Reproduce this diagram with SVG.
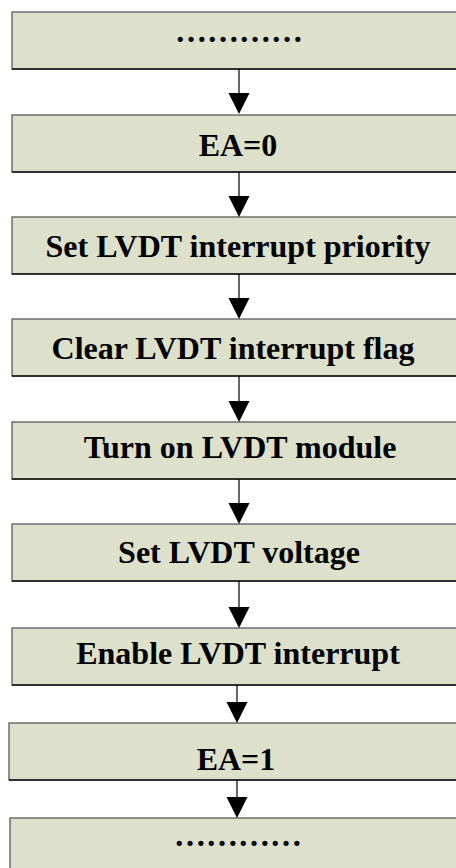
<svg xmlns="http://www.w3.org/2000/svg" width="456" height="868" viewBox="0 0 456 868">
<style>
.box{fill:#dde0cb;stroke:#5a5a5a;stroke-width:1.3}
.bl{stroke:#111;stroke-width:1.3}
.t{font-family:"Liberation Serif","Times New Roman",serif;font-weight:bold;font-size:32px;fill:#000;text-anchor:middle}
.ln{stroke:#000;stroke-width:1.2;fill:none}
.hd{fill:#000}
</style>
<rect width="456" height="868" fill="#fff"/>
<g id="n1"><rect class="box" x="12" y="12" width="460" height="57"/><line class="bl" x1="12" y1="69" x2="456" y2="69"/><text class="t" x="239" y="42">…………</text></g>
<g id="n2"><rect class="box" x="12" y="115" width="460" height="57"/><line class="bl" x1="12" y1="172" x2="456" y2="172"/><text class="t" x="238" y="156">EA=0</text></g>
<g id="n3"><rect class="box" x="12" y="217" width="460" height="57"/><line class="bl" x1="12" y1="274" x2="456" y2="274"/><text class="t" x="238" y="257">Set LVDT interrupt priority</text></g>
<g id="n4"><rect class="box" x="12" y="319" width="460" height="57"/><line class="bl" x1="12" y1="376" x2="456" y2="376"/><text class="t" x="233" y="359">Clear LVDT interrupt flag</text></g>
<g id="n5"><rect class="box" x="12" y="422" width="460" height="57"/><line class="bl" x1="12" y1="479" x2="456" y2="479"/><text class="t" x="240" y="458">Turn on LVDT module</text></g>
<g id="n6"><rect class="box" x="12" y="524" width="460" height="57"/><line class="bl" x1="12" y1="581" x2="456" y2="581"/><text class="t" x="239" y="563">Set LVDT voltage</text></g>
<g id="n7"><rect class="box" x="12" y="628" width="460" height="57"/><line class="bl" x1="12" y1="685" x2="456" y2="685"/><text class="t" x="238" y="664">Enable LVDT interrupt</text></g>
<g id="n8"><rect class="box" x="9" y="723" width="463" height="57"/><line class="bl" x1="9" y1="780" x2="456" y2="780"/><text class="t" x="236" y="770">EA=1</text></g>
<g id="n9"><rect class="box" x="10" y="818" width="462" height="60"/><text class="t" x="238" y="846">…………</text></g>
<g id="connectors">
<line class="ln" x1="239" y1="69" x2="239" y2="95"/><polygon class="hd" points="228.5,93 249.5,93 239,114"/>
<line class="ln" x1="239" y1="172" x2="239" y2="197"/><polygon class="hd" points="228.5,196 249.5,196 239,217"/>
<line class="ln" x1="239" y1="274" x2="239" y2="299"/><polygon class="hd" points="228.5,298 249.5,298 239,319"/>
<line class="ln" x1="239" y1="376" x2="239" y2="402"/><polygon class="hd" points="228.5,401 249.5,401 239,422"/>
<line class="ln" x1="239" y1="479" x2="239" y2="504"/><polygon class="hd" points="228.5,503 249.5,503 239,524"/>
<line class="ln" x1="239" y1="581" x2="239" y2="608"/><polygon class="hd" points="228.5,607 249.5,607 239,628"/>
<line class="ln" x1="237" y1="685" x2="237" y2="703"/><polygon class="hd" points="226.5,702 247.5,702 237,723"/>
<line class="ln" x1="237" y1="780" x2="237" y2="798"/><polygon class="hd" points="226.5,797 247.5,797 237,818"/>
</g>
</svg>
